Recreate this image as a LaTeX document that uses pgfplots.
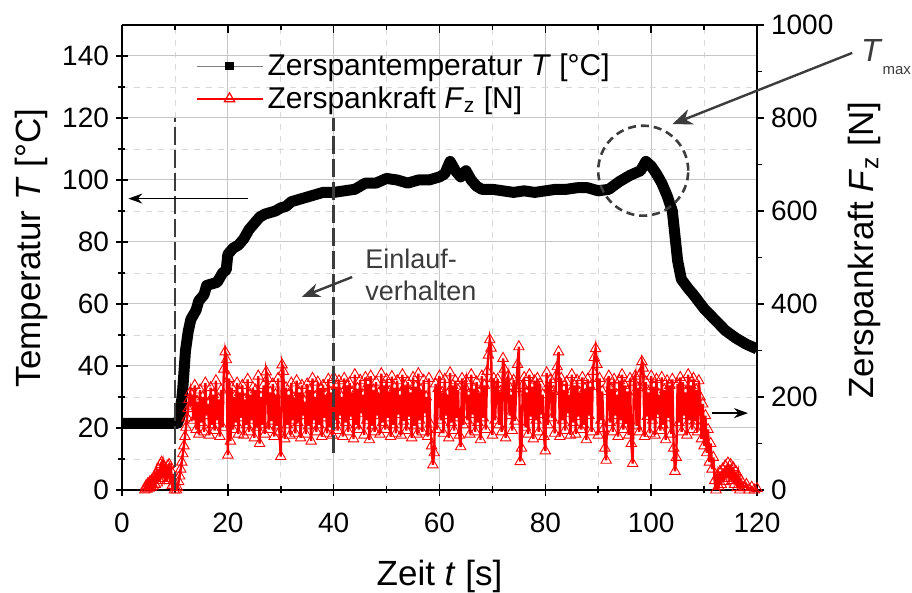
\documentclass[border=0pt]{standalone}
\usepackage{pgfplots}
\pgfplotsset{compat=1.18}
\usepackage{fontspec}
\setmainfont{Liberation Sans}
\usetikzlibrary{arrows.meta}
\definecolor{annot}{RGB}{60,60,60}

\pgfplotsset{
  base/.style={
    at={(0,0)}, anchor=south west,
    scale only axis, width=317.5pt, height=232.5pt,
    xmin=0, xmax=120,
    /pgf/number format/assume math mode=true,
    /pgf/number format/1000 sep={},
    ticklabel style={font=\fontsize{14}{16}\selectfont},
    axis line style={line width=0.9pt},
    every tick/.style={black, line width=0.8pt},
    major tick length=6pt, minor tick length=3.5pt,
  },
}

\begin{document}
\begin{tikzpicture}
% left axis: temperature
\begin{axis}[base,
  ymin=0, ymax=150,
  xtick={0,20,...,120}, ytick={0,20,...,140},
  minor x tick num=1, minor y tick num=1,
  grid=both,
  major grid style={gray!45, line width=0.5pt},
  minor grid style={gray!30, dashed, line width=0.4pt},
  axis x line*=bottom, axis y line*=left,
  tick align=center,
  xticklabel style={yshift=-5pt},
  xlabel={Zeit \textit{t} [s]},
  ylabel={Temperatur \textit{T} [°C]},
  label style={font=\fontsize{17.5}{20}\selectfont},
  xlabel style={at={(axis description cs:0.5,-0.205)}, anchor=base},
  ylabel style={at={(axis description cs:-0.129,0.52)}, anchor=base},
]
\addplot[black, line width=5.5pt, line join=round] table {
t T
0 21.5
10.5 21.5
11 24
11.5 33
12 45
12.5 51
13 55
14 58
14.5 61
15.5 63
16 66
18 67
19 70
19.7 71
20 76
21 78
22 79
23 81
24 84
25 86
26 88
27 89
29 90
30 91
31 91.5
32 93
34 94
36 95
38 96
40 96
42 96.5
44 97
46 99
48 99
50 100.5
52 100
54 99
56 100
58 100
60 101
61 102
62 106
63 103
64 101
65 103
66 100
67 98
68 97
70 97
72 96.5
74 96
76 96.5
78 96
80 96.5
82 97
84 97
86 97.5
88 97.5
90 96.5
92 97
94 99.5
96 101.5
98 103
99 106
100 104.5
101 102
102 99
103 95
104 90
104.5 82
105 74
105.7 68
107 65
108 63
110 58.5
112 55
114 51.5
116 49
118 47
120 45.5
};
\end{axis}

% right axis: force
\begin{axis}[base,
  ymin=0, ymax=1000,
  ytick={0,200,...,1000}, minor y tick num=1,
  hide x axis, axis y line*=right,
  tick align=outside, major tick length=3.5pt, minor tick length=2.5pt,
  ylabel={Zerspankraft \textit{F}\textsubscript{z} [N]},
  ylabel style={font=\fontsize{17.5}{20}\selectfont, at={(axis description cs:1.183,0.516)}, anchor=base},
  legend style={at={(0.112,0.952)}, anchor=north west, draw=none, fill=none,
    font=\fontsize{15}{17}\selectfont, row sep=0pt, inner sep=1pt},
  legend cell align=left,
  legend image code/.code={\draw[mark repeat=2, mark phase=2, #1] plot coordinates {(0pt,0pt) (16.5pt,0pt) (33pt,0pt)};},
]
\addlegendimage{gray, line width=0.5pt, mark=square*, mark size=1.9pt, mark options={black, solid}}
\addlegendentry{Zerspantemperatur \textit{T} [°C]}
\addlegendimage{red, line width=1pt, mark=triangle, mark size=3pt, mark options={red, fill=white, solid, line width=0.6pt}}
\addlegendentry{Zerspankraft \textit{F}\textsubscript{z} [N]}
\addplot[forget plot, red, line width=1.2pt, mark=triangle, mark size=3pt, mark options={red, line width=0.45pt}] coordinates {
(4.3,0) (4.5,8) (4.7,2) (4.9,14) (5.1,4) (5.3,18) (5.5,6) (5.7,22) (5.9,8) (6.1,28)
(6.3,12) (6.5,35) (6.7,15) (6.9,45) (7.1,20) (7.3,55) (7.5,60) (7.7,25) (7.9,50) (8.1,30)
(8.3,45) (8.5,20) (8.7,52) (8.9,55) (9.1,25) (9.3,40) (9.5,10) (9.7,20) (9.9,0) (10.1,5) (10.3,0)
(10.5,5) (10.7,18) (10.9,30) (11.1,45) (11.3,60) (11.5,78) (11.7,95) (11.9,115) (12.1,135)
(12.3,155) (12.5,175) (12.7,195) (12.9,210) (13.1,180)
(13.25,205) (13.5,150) (13.75,225) (14,130) (14.25,190) (14.5,120) (14.75,215) (15,145)
(15.25,200) (15.5,125) (15.75,230) (16,160) (16.25,185) (16.5,118) (16.75,220) (17,140)
(17.25,205) (17.5,128) (17.75,235) (18,150) (18.25,195) (18.5,115) (18.75,215) (19,135)
(19.25,260) (19.5,297) (19.75,280) (20,75) (20.25,240) (20.5,105) (20.75,220) (21,130)
(21.25,200) (21.5,145) (21.75,230) (22,120) (22.25,210) (22.5,155) (22.75,225) (23,118)
(23.25,195) (23.5,140) (23.75,238) (24,125) (24.25,205) (24.5,150) (24.75,220) (25,112)
(25.25,215) (25.5,135) (25.75,245) (26,100) (26.25,200) (26.5,140) (26.75,225) (27,120)
(27.25,254) (27.5,240) (27.75,130) (28,210) (28.25,148) (28.5,228) (28.75,115) (29,205)
(29.25,138) (29.5,240) (29.75,125) (30,72) (30.25,269) (30.5,255) (30.75,110) (31,220)
(31.25,140) (31.5,205) (31.75,118) (32,230) (32.25,150) (32.5,198) (32.75,122) (33,235)
(33.25,145) (33.5,210) (33.75,112) (34,225) (34.25,160) (34.5,190) (34.75,120) (35,228)
(35.25,138) (35.5,215) (35.75,105) (36,240) (36.25,150) (36.5,200) (36.75,125) (37,232)
(37.25,140) (37.5,218) (37.75,115) (38,225) (38.25,155) (38.5,205) (38.75,122) (39,238)
(39.25,135) (39.5,210) (39.75,118) (40,242) (40.25,150) (40.5,222) (40.75,128) (41,235)
(41.25,160) (41.5,200) (41.75,115) (42,240) (42.25,145) (42.5,225) (42.75,125) (43,230)
(43.25,158) (43.5,210) (43.75,110) (44,248) (44.25,140) (44.5,218) (44.75,130) (45,236)
(45.25,165) (45.5,205) (45.75,118) (46,242) (46.25,150) (46.5,228) (46.75,108) (47,245)
(47.25,138) (47.5,215) (47.75,125) (48,232) (48.25,160) (48.5,208) (48.75,120) (49,250)
(49.25,145) (49.5,225) (49.75,130) (50,238) (50.25,155) (50.5,212) (50.75,115) (51,244)
(51.25,140) (51.5,220) (51.75,122) (52,235) (52.25,162) (52.5,205) (52.75,118) (53,248)
(53.25,148) (53.5,225) (53.75,128) (54,232) (54.25,158) (54.5,210) (54.75,112) (55,242)
(55.25,138) (55.5,222) (55.75,120) (56,250) (56.25,150) (56.5,215) (56.75,125) (57,236)
(57.25,165) (57.5,200) (57.75,115) (58,240) (58.25,142) (58.5,95) (58.75,54) (59,80)
(59.25,228) (59.5,130) (59.75,218) (60,245) (60.25,150) (60.5,210) (60.75,122) (61,238)
(61.25,160) (61.5,205) (61.75,112) (62,252) (62.25,145) (62.5,225) (62.75,128) (63,235)
(63.25,155) (63.5,215) (63.75,118) (64,93) (64.25,240) (64.5,140) (64.75,222) (65,235)
(65.25,150) (65.5,205) (65.75,120) (66,248) (66.25,162) (66.5,218) (66.75,125) (67,232)
(67.25,145) (67.5,210) (67.75,108) (68,245) (68.25,155) (68.5,225) (68.75,130) (69,255)
(69.25,290) (69.5,323) (69.75,305) (70,118) (70.25,240) (70.5,150) (70.75,220) (71,238)
(71.25,140) (71.5,212) (71.75,125) (72,283) (72.25,260) (72.5,112) (72.75,230) (73,245)
(73.25,160) (73.5,205) (73.75,128) (74,236) (74.25,148) (74.5,218) (74.75,270) (75,308)
(75.25,61) (75.5,90) (75.75,225) (76,242) (76.25,135) (76.5,210) (76.75,120) (77,248)
(77.25,158) (77.5,222) (77.75,110) (78,235) (78.25,150) (78.5,240) (78.75,125) (79,228)
(79.25,162) (79.5,205) (79.75,115) (80,84) (80.25,252) (80.5,140) (80.75,220) (81,238)
(81.25,155) (81.5,212) (81.75,122) (82,245) (82.25,265) (82.5,297) (82.75,115) (83,240)
(83.25,150) (83.5,215) (83.75,128) (84,232) (84.25,165) (84.5,205) (84.75,118) (85,248)
(85.25,145) (85.5,225) (85.75,120) (86,236) (86.25,158) (86.5,210) (86.75,130) (87,242)
(87.25,140) (87.5,218) (87.75,108) (88,238) (88.25,160) (88.5,222) (88.75,125) (89,255)
(89.25,285) (89.5,304) (89.75,270) (90,118) (90.25,240) (90.5,150) (90.75,212) (91,132)
(91.25,90) (91.5,64) (91.75,228) (92,245) (92.25,145) (92.5,218) (92.75,125) (93,238)
(93.25,160) (93.5,205) (93.75,115) (94,235) (94.25,150) (94.5,248) (94.75,130) (95,225)
(95.25,142) (95.5,212) (95.75,118) (96,240) (96.25,100) (96.5,57) (96.75,232) (97,245)
(97.25,138) (97.5,220) (97.75,125) (98,250) (98.25,276) (98.5,262) (98.75,115) (99,232)
(99.25,158) (99.5,210) (99.75,122) (100,245) (100.25,150) (100.5,222) (100.75,118) (101,238)
(101.25,162) (101.5,205) (101.75,128) (102,242) (102.25,140) (102.5,215) (102.75,108) (103,235)
(103.25,155) (103.5,225) (103.75,120) (104,238) (104.25,90) (104.5,40) (104.75,70) (105,228)
(105.25,145) (105.5,242) (105.75,125) (106,232) (106.25,160) (106.5,210) (106.75,118) (107,248)
(107.25,150) (107.5,225) (107.75,130) (108,240) (108.25,148) (108.5,215) (108.75,125) (109,235)
(109.25,200) (109.5,110) (109.75,185) (110,95) (110.25,160) (110.5,80) (110.75,130) (111,60)
(111.25,100) (111.5,45) (111.75,70) (112,20) (112.25,0) (112.5,30) (112.75,8) (113,40)
(113.25,12) (113.5,45) (113.75,18) (114,52) (114.25,25) (114.5,58) (114.75,30) (115,55)
(115.25,20) (115.5,48) (115.75,12) (116,40) (116.25,5) (116.5,30) (116.75,0) (117,20)
(117.5,5) (118,12) (118.5,0) (119,6) (119.5,0) (120,3)
};
\end{axis}

% top ticks and annotations
\begin{axis}[base,
  ymin=0, ymax=150,
  xtick={0,20,...,120}, minor x tick num=1, xticklabels={},
  axis x line*=top, hide y axis,
  tick align=inside, major tick length=4pt, minor tick length=2.5pt,
  clip=false,
]
\draw[annot, line width=1.4pt, dash pattern=on 9pt off 2.5pt] (axis cs:10,0) -- (axis cs:10,120);
\draw[annot, line width=1.4pt, dash pattern=on 9pt off 2.5pt] (axis cs:40,12) -- (axis cs:40,120);
\draw[black, line width=0.8pt, -{Stealth[length=7pt,width=5pt]}] (axis cs:23.8,94) -- (axis cs:1.2,94);
\draw[black, line width=0.8pt, -{Stealth[length=7pt,width=5pt]}] (axis cs:111.5,24.8) -- (axis cs:118.3,24.8);
\draw[annot, line width=1.2pt, -{Stealth[length=9pt,width=7pt]}] (axis cs:43.5,68.7) -- (axis cs:34,62.3);
\node[annot, align=left, font=\fontsize{13.5}{16}\selectfont, anchor=north west, inner sep=0pt] at (axis cs:45.9,78) {Einlauf-\\verhalten};
\draw[annot, line width=1.3pt, dash pattern=on 4pt off 2.5pt] (axis cs:98.5,103) circle[radius=22.5pt];
\draw[annot, line width=1.2pt, -{Stealth[length=10pt,width=8pt]}] (axis cs:138,141) -- (axis cs:104,118);
\node[anchor=base west, inner sep=0pt, annot] at (axis cs:139.6,138.1) {{\fontsize{16}{18}\selectfont\textit{T}}\raisebox{-6.5pt}{\fontsize{7.5}{9}\selectfont max}};
\end{axis}
\pgfresetboundingbox
\useasboundingbox (-61pt,-51.5pt) rectangle (395pt,245pt);
\end{tikzpicture}
\end{document}
